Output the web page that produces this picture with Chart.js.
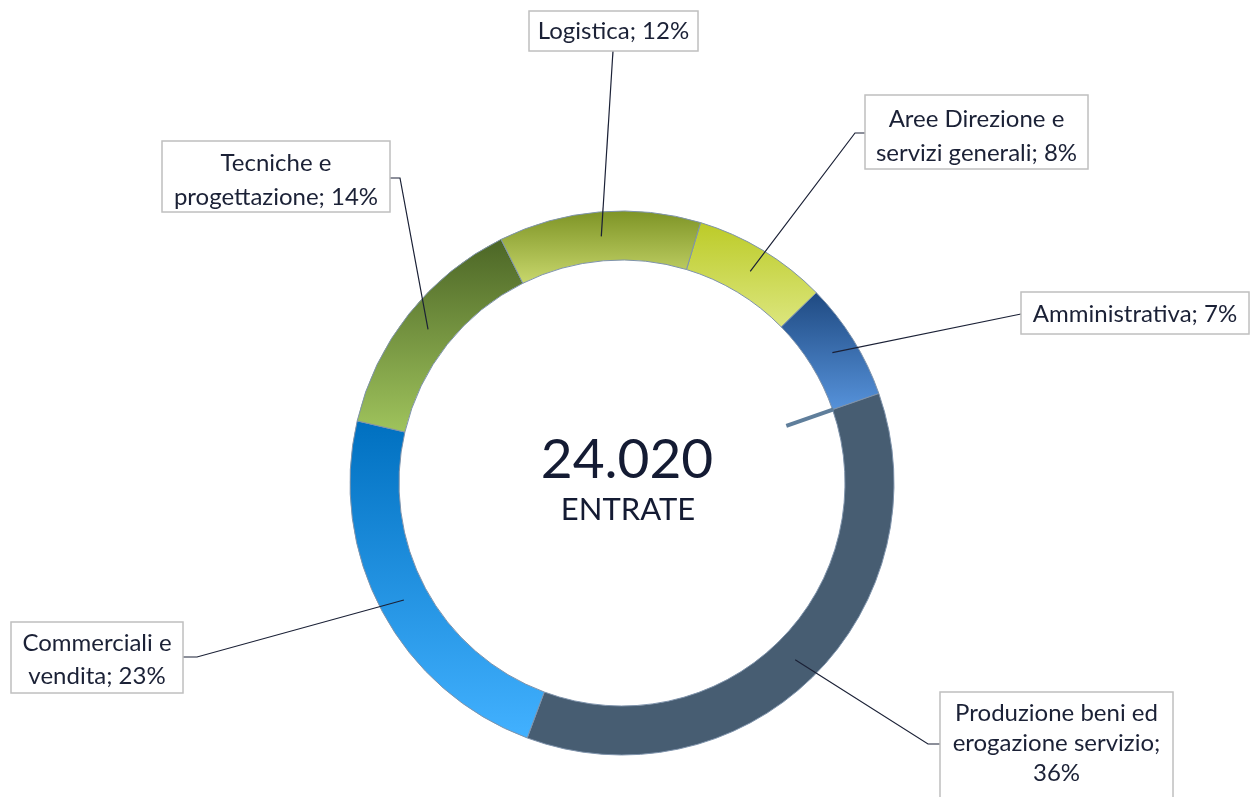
<!DOCTYPE html>
<html>
<head>
<meta charset="utf-8">
<script src="https://cdn.jsdelivr.net/npm/chart.js@4"></script>
<style>
  html, body { margin: 0; padding: 0; background: #fff; }
  #wrap { width: 1252px; height: 797px; position: relative; }
</style>
</head>
<body>
<div id="wrap"><canvas id="chart"></canvas></div>
<script>
// Data (shares in %), order clockwise starting from the top right
const categories = ['Aree Direzione e servizi generali', 'Amministrativa', 'Produzione beni ed erogazione servizio', 'Commerciali e vendita', 'Tecniche e progettazione', 'Logistica'];
const shares = [8, 7, 36, 23, 14, 12];
const labelLines = [
    ['Aree Direzione e', 'servizi generali; 8%'],
    ['Amministrativa; 7%'],
    ['Produzione beni ed', 'erogazione servizio;', '36%'],
    ['Commerciali e', 'vendita; 23%'],
    ['Tecniche e', 'progettazione; 14%'],
    ['Logistica; 12%']
];
const totalValue = '24.020';
const totalLabel = 'ENTRATE';

// slice gradients (top -> bottom)
const topColors = ['#bccb28', '#1f4a82', '#475d72', '#0070c0', '#4c6626', '#7e9426'];
const bottomColors = ['#dce67e', '#5692da', '#475d72', '#42b1ff', '#9fc35c', '#c8d76c'];

const OUTER = 272, INNER = 223, ROTATION = 16.8;
const FONT = 'Lato, "Open Sans", sans-serif';
const TEXT_COLOR = '#1b2136';

// label boxes: box rect, elbow point (optional), text baselines
const boxes = [
    { x: 865, y: 95, w: 223, h: 74, elbow: [855, 133], end: [865, 133], base: [127, 161] },
    { x: 1021, y: 292, w: 228, h: 42, end: [1021, 314], base: [322] },
    { x: 940, y: 692, w: 233, h: 120, elbow: [928, 744], end: [940, 744], base: [721, 751, 781] },
    { x: 11, y: 622, w: 172, h: 71, elbow: [197, 657], end: [183, 657], base: [651, 684] },
    { x: 162, y: 141, w: 228, h: 71, elbow: [400, 178], end: [390, 178], base: [171, 205] },
    { x: 529, y: 11, w: 169, h: 40, end: [613, 51], base: [39] }
];

// vertical gradient over the bounding box of each slice
function sliceGradient(ctx) {
    const chart = ctx.chart;
    const area = chart.chartArea;
    if (!area) return topColors[ctx.dataIndex];
    const i = ctx.dataIndex;
    if (topColors[i] === bottomColors[i]) return topColors[i];
    const total = shares.reduce((a, b) => a + b, 0);
    let before = 0;
    for (let k = 0; k < i; k++) before += shares[k];
    const rot = ROTATION * Math.PI / 180 - Math.PI / 2;
    const a0 = rot + before / total * 2 * Math.PI;
    const a1 = rot + (before + shares[i]) / total * 2 * Math.PI;
    const cy = (area.top + area.bottom) / 2;
    let minY = Infinity, maxY = -Infinity;
    for (let s = 0; s <= 60; s++) {
        const a = a0 + (a1 - a0) * s / 60;
        [OUTER, INNER].forEach(r => {
            const y = cy + r * Math.sin(a);
            minY = Math.min(minY, y);
            maxY = Math.max(maxY, y);
        });
    }
    const g = chart.ctx.createLinearGradient(0, minY, 0, maxY);
    g.addColorStop(0, topColors[i]);
    g.addColorStop(1, bottomColors[i]);
    return g;
}

const annotations = {
    id: 'annotations',
    afterDatasetsDraw(chart) {
        const ctx = chart.ctx;
        const arcs = chart.getDatasetMeta(0).data;
        ctx.save();

        // short tick at the Amministrativa / Produzione boundary
        const b = arcs[1];
        const ang = b.endAngle;
        const rin = b.innerRadius;
        ctx.strokeStyle = '#5f7e9b';
        ctx.lineWidth = 4;
        ctx.beginPath();
        ctx.moveTo(b.x + (rin + 1) * Math.cos(ang), b.y + (rin + 1) * Math.sin(ang));
        ctx.lineTo(b.x + (rin - 49) * Math.cos(ang), b.y + (rin - 49) * Math.sin(ang));
        ctx.stroke();

        // leader lines
        ctx.strokeStyle = '#1b2136';
        ctx.lineWidth = 1.2;
        arcs.forEach((arc, i) => {
            const mid = (arc.startAngle + arc.endAngle) / 2;
            const r = (arc.outerRadius + arc.innerRadius) / 2;
            const bx = boxes[i];
            ctx.beginPath();
            ctx.moveTo(arc.x + r * Math.cos(mid), arc.y + r * Math.sin(mid));
            if (bx.elbow) ctx.lineTo(bx.elbow[0], bx.elbow[1]);
            ctx.lineTo(bx.end[0], bx.end[1]);
            ctx.stroke();
        });

        // label boxes
        boxes.forEach((bx, i) => {
            ctx.fillStyle = '#ffffff';
            ctx.fillRect(bx.x, bx.y, bx.w, bx.h);
            ctx.strokeStyle = '#bfbfbf';
            ctx.lineWidth = 1.5;
            ctx.strokeRect(bx.x, bx.y, bx.w, bx.h);
            ctx.fillStyle = TEXT_COLOR;
            ctx.font = '24px ' + FONT;
            ctx.textAlign = 'center';
            ctx.textBaseline = 'alphabetic';
            labelLines[i].forEach((line, j) => {
                ctx.fillText(line, bx.x + bx.w / 2, bx.base[j]);
            });
        });

        // center total
        const c = arcs[0];
        ctx.fillStyle = '#141b33';
        ctx.textAlign = 'center';
        ctx.font = '55px ' + FONT;
        ctx.fillText(totalValue, c.x + 5, 478);
        ctx.font = '31px ' + FONT;
        ctx.fillText(totalLabel, c.x + 6, 520);
        ctx.restore();
    }
};

new Chart(document.getElementById('chart'), {
    type: 'doughnut',
    data: {
        labels: categories,
        datasets: [{
            data: shares,
            backgroundColor: sliceGradient,
            borderColor: '#7f93ab',
            borderWidth: 1
        }]
    },
    options: {
        responsive: true,
        maintainAspectRatio: false,
        animation: false,
        rotation: ROTATION,
        radius: OUTER,
        cutout: (INNER / OUTER * 100) + '%',
        layout: { padding: { top: 169, bottom: 0, left: 0, right: 8 } },
        plugins: {
            legend: { display: false },
            tooltip: { enabled: false }
        }
    },
    plugins: [annotations]
});
</script>
</body>
</html>
